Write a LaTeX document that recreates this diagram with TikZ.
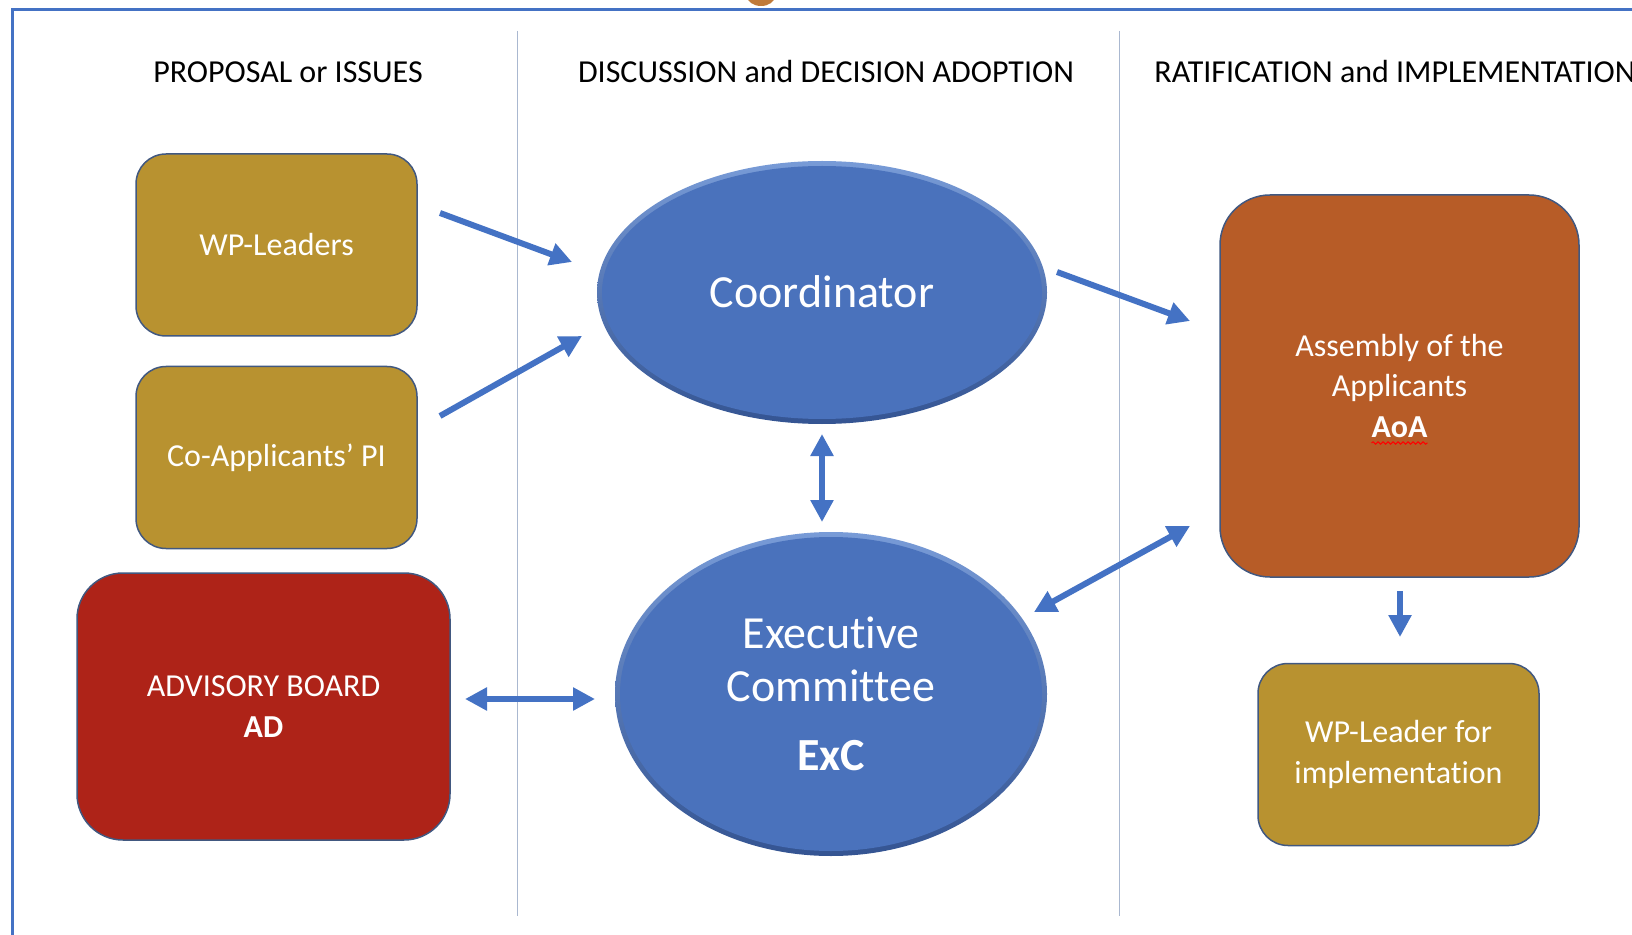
\documentclass[tikz,border=0pt]{standalone}
\usepackage{fontspec}
\setmainfont[Ligatures=NoCommon]{Carlito}
\usetikzlibrary{arrows.meta,shapes.geometric,decorations.pathmorphing}
\definecolor{gold}{RGB}{184,146,48}
\definecolor{advred}{RGB}{174,35,24}
\definecolor{aoaorange}{RGB}{183,92,39}
\definecolor{ellblue}{RGB}{74,114,188}
\definecolor{ellhi}{RGB}{120,155,215}
\definecolor{ellsh}{RGB}{52,84,146}
\definecolor{arrblue}{RGB}{68,114,196}
\definecolor{boxborder}{RGB}{65,88,128}
\definecolor{divcol}{RGB}{170,184,208}
\definecolor{framecol}{RGB}{68,114,196}
\definecolor{blobcol}{RGB}{192,122,58}
\begin{document}
\begin{tikzpicture}[x=0.5pt,y=-0.5pt,
  header/.style={font=\fontsize{16}{19.5}\selectfont, text=black, inner sep=0pt},
  box/.style={draw=boxborder, line width=0.75pt, text=white, align=center, inner sep=0pt,
    font=\fontsize{16}{20.3}\selectfont},
  smallbox/.style={box, fill=gold, rounded corners=15pt, minimum width=140.5pt, minimum height=91pt},
  ellrim/.style={ellipse, inner sep=0pt, top color=ellhi, bottom color=ellsh, draw=none},
  ellcore/.style={ellipse, inner sep=0pt, fill=ellblue, text=white, align=center},
  conn/.style={draw=arrblue, line width=3pt, -{Triangle[length=11pt,width=11pt]}},
  biconn/.style={draw=arrblue, line width=3pt, {Triangle[length=11pt,width=11pt]}-{Triangle[length=11pt,width=11pt]}}
]
\useasboundingbox (0,0) rectangle (1632,935);
\fill[white] (0,0) rectangle (1632,935);

% top blob and frame
\fill[blobcol] (761,-4) ellipse [x radius=7pt, y radius=5pt];
\draw[framecol, line width=1.5pt] (12,940) -- (12,10) -- (1640,10);

% column dividers
\draw[divcol, line width=0.5pt] (517,31) -- (517,916);
\draw[divcol, line width=0.5pt] (1119,31) -- (1119,916);

% headers
\node[header] (h1) at (288,72) {PROPOSAL or ISSUES};
\node[header] (h2) at (826,72) {DISCUSSION and DECISION ADOPTION};
\node[header, anchor=west] (h3) at (1154,72) {RATIFICATION and IMPLEMENTATION};

% left column
\node[smallbox] (wpl) at (276.5,245) {WP-Leaders};
\node[smallbox] (coapp) at (276.5,457.5) {Co-Applicants’ PI};
\node[box, fill=advred, rounded corners=23pt, minimum width=186.5pt, minimum height=133.5pt]
  (ad) at (263.5,706.5) {ADVISORY BOARD\\\textbf{AD}};

% middle column
\node[ellrim, minimum width=225pt, minimum height=131.5pt] (coordrim) at (822,292.5) {};
\node[ellcore, minimum width=220pt, minimum height=126.5pt,
  font=\fontsize{23}{25.5}\selectfont] (coord) at (822,292.5) {\raisebox{1pt}{Coordinator}};
\node[ellrim, minimum width=216pt, minimum height=162pt] (excrim) at (831,694) {};
\node[ellcore, minimum width=211pt, minimum height=157pt,
  font=\fontsize{23}{25.5}\selectfont] (exc) at (831,694) {\raisebox{1pt}{Executive}\\Committee\\[9pt]\textbf{ExC}};

% right column
\node[box, fill=aoaorange, rounded corners=25pt, minimum width=179.5pt, minimum height=191pt]
  (aoa) at (1399.5,386) {Assembly of the\\Applicants\\\textbf{AoA}};
\draw[red, line width=0.5pt, decorate, decoration={snake, amplitude=0.6pt, segment length=2.5pt}]
  ([xshift=-14pt,yshift=-28.5pt]aoa.center) -- ([xshift=14pt,yshift=-28.5pt]aoa.center);
\node[smallbox] (wpi) at (1398.5,754.5) {WP-Leader for\\implementation};

% connector end points
\coordinate (a1s) at (440,213); \coordinate (a1e) at (572,262);
\coordinate (a2s) at (440,416); \coordinate (a2e) at (582,336);
\coordinate (a3s) at (1057,272); \coordinate (a3e) at (1190,321);
\coordinate (a4s) at (822,434); \coordinate (a4e) at (822,522);
\coordinate (a5s) at (465,699); \coordinate (a5e) at (595,699);
\coordinate (a6s) at (1034,612); \coordinate (a6e) at (1190,526);
\coordinate (a7s) at (1400,591); \coordinate (a7e) at (1400,637);

\draw[conn] (a1s) -- (a1e);
\draw[conn] (a2s) -- (a2e);
\draw[conn] (a3s) -- (a3e);
\draw[biconn] (a4s) -- (a4e);
\draw[biconn] (a5s) -- (a5e);
\draw[biconn] (a6s) -- (a6e);
\draw[conn] (a7s) -- (a7e);
\end{tikzpicture}
\end{document}
